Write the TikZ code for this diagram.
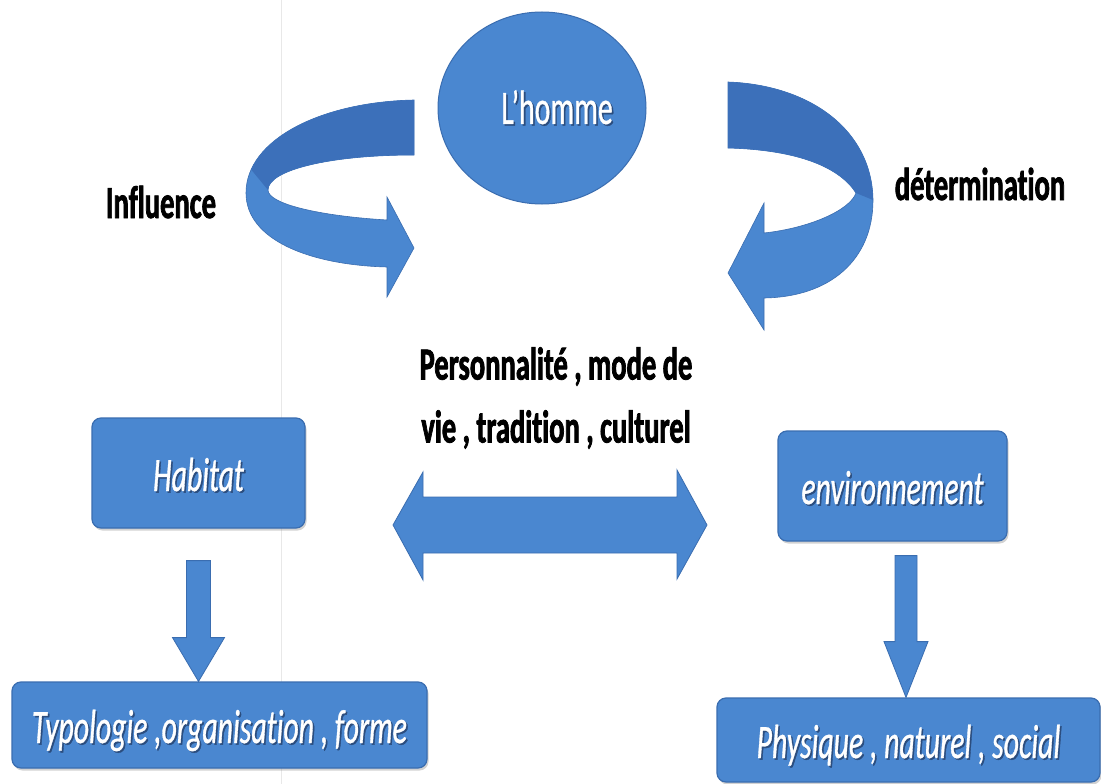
\documentclass[tikz,border=0pt]{standalone}
\usepackage{fontspec}
\setmainfont{Carlito}[FakeStretch=0.62, Ligatures=NoCommon, BoldFeatures={FakeBold=1.6}, ItalicFeatures={FakeBold=0.7}, UprightFeatures={FakeBold=0.7}]
\usetikzlibrary{shapes.geometric,calc,shadows}
\definecolor{mainblue}{HTML}{4A87D0}
\definecolor{darkblue}{HTML}{3C70BA}
\definecolor{edgeblue}{HTML}{3A6DB0}
\definecolor{shadowc}{HTML}{2B4D7E}
\newcommand\wsh[1]{\leavevmode\rlap{\kern1.6pt\raisebox{-1.6pt}{\color{shadowc}#1}}{\color{white}#1}}
\tikzset{
  blockbox/.style={rectangle, rounded corners=9pt, fill=mainblue, draw=edgeblue, line width=1.2pt,
    drop shadow={shadow xshift=1.5pt, shadow yshift=-2.5pt, opacity=0.35},
    font=\fontsize{48}{50}\selectfont\itshape, inner sep=0pt, text height=36pt, text depth=0pt},
  blockarrow/.style={fill=mainblue, draw=edgeblue, line width=0.8pt},
  lab/.style={font=\fontsize{46}{63}\selectfont\bfseries, text=black, inner sep=0pt}
}
\begin{document}
\begin{tikzpicture}[x=1pt,y=-1pt]
\useasboundingbox (0,0) rectangle (1101,784);
\fill[white] (0,0) rectangle (1101,784);
% faint scan line
\draw[gray!18, line width=0.8pt] (281,0) -- (281,784);

% central ellipse
\node[ellipse, fill=mainblue, draw=edgeblue, line width=1pt, minimum width=208pt, minimum height=192pt,
  inner sep=0pt, font=\fontsize{48}{50}\selectfont] (homme) at (542,108) {\hspace*{30pt}\wsh{L’homme}};

% left curved arrow
\path[fill=mainblue, draw=edgeblue, line width=0.6pt]
  (414,100) .. controls (320,102) and (246,140) .. (246,193)
  .. controls (246,240) and (310,265) .. (387,267)
  -- (387,297) -- (414,248) -- (387,197) -- (387,220)
  .. controls (320,216) and (268,204) .. (268,190)
  .. controls (268,170) and (330,155) .. (414,155) -- cycle;
\begin{scope}
  \clip (414,100) .. controls (320,102) and (246,140) .. (246,193)
  -- (268,190) .. controls (268,170) and (330,155) .. (414,155) -- cycle;
  \fill[darkblue] (425,90) -- (235,90) -- (235,150) -- (268,190) -- (425,190) -- cycle;
\end{scope}

% right curved arrow
\path[fill=mainblue, draw=edgeblue, line width=0.6pt]
  (728,82) .. controls (810,85) and (872,130) .. (873,200)
  .. controls (873,260) and (830,297) .. (764,298)
  -- (764,330) -- (728,273) -- (764,203) -- (764,233)
  .. controls (810,228) and (850,210) .. (856,193)
  .. controls (840,168) and (800,150) .. (728,148) -- cycle;
\begin{scope}
  \clip (728,82) .. controls (810,85) and (872,130) .. (873,200)
  -- (856,193) .. controls (840,168) and (800,150) .. (728,148) -- cycle;
  \fill[darkblue] (720,75) -- (885,75) -- (885,210) -- (856,193) -- (720,193) -- cycle;
\end{scope}

% labels
\node[lab, anchor=base] (infl) at (161,218) {Influence};
\node[lab, anchor=base] (det) at (980,200) {détermination};
\node[lab, align=center] (pers) at (556,398) {Personnalité , mode de\\vie , tradition , culturel};

% boxes
\node[blockbox, minimum width=213pt, minimum height=110pt] (hab) at (198.5,473) {\wsh{Habitat}};
\node[blockbox, minimum width=415pt, minimum height=86pt] (typ) at (219.5,725) {\wsh{Typologie ,organisation , forme}};
\node[blockbox, minimum width=229pt, minimum height=110pt] (env) at (892.5,486) {\wsh{environnement}};
\node[blockbox, minimum width=383pt, minimum height=84pt] (phy) at (908.5,740) {\wsh{Physique , naturel , social}};

% double arrow
\coordinate (dc) at (550,525);
\path[blockarrow] ($(dc)+(-157,0)$) -- ($(dc)+(-127,-53)$) -- ($(dc)+(-127,-28)$) -- ($(dc)+(127,-28)$)
  -- ($(dc)+(127,-55)$) -- ($(dc)+(157,0)$) -- ($(dc)+(127,54)$) -- ($(dc)+(127,28)$)
  -- ($(dc)+(-127,28)$) -- ($(dc)+(-127,55)$) -- cycle;

% down arrow Habitat -> Typologie
\path[blockarrow] ($(hab.south)+(-12,32)$) -- ($(hab.south)+(12,32)$) -- ($(hab.south)+(12,109)$)
  -- ($(hab.south)+(26,109)$) -- (hab.south |- typ.north) -- ($(hab.south)+(-26,109)$)
  -- ($(hab.south)+(-12,109)$) -- cycle;

% down arrow environnement -> Physique
\coordinate (es) at ($(env.south)+(13.5,0)$);
\path[blockarrow] ($(es)+(-11,14)$) -- ($(es)+(11,14)$) -- ($(es)+(11,100)$)
  -- ($(es)+(22,100)$) -- (es |- phy.north) -- ($(es)+(-22,100)$)
  -- ($(es)+(-11,100)$) -- cycle;
\end{tikzpicture}
\end{document}
